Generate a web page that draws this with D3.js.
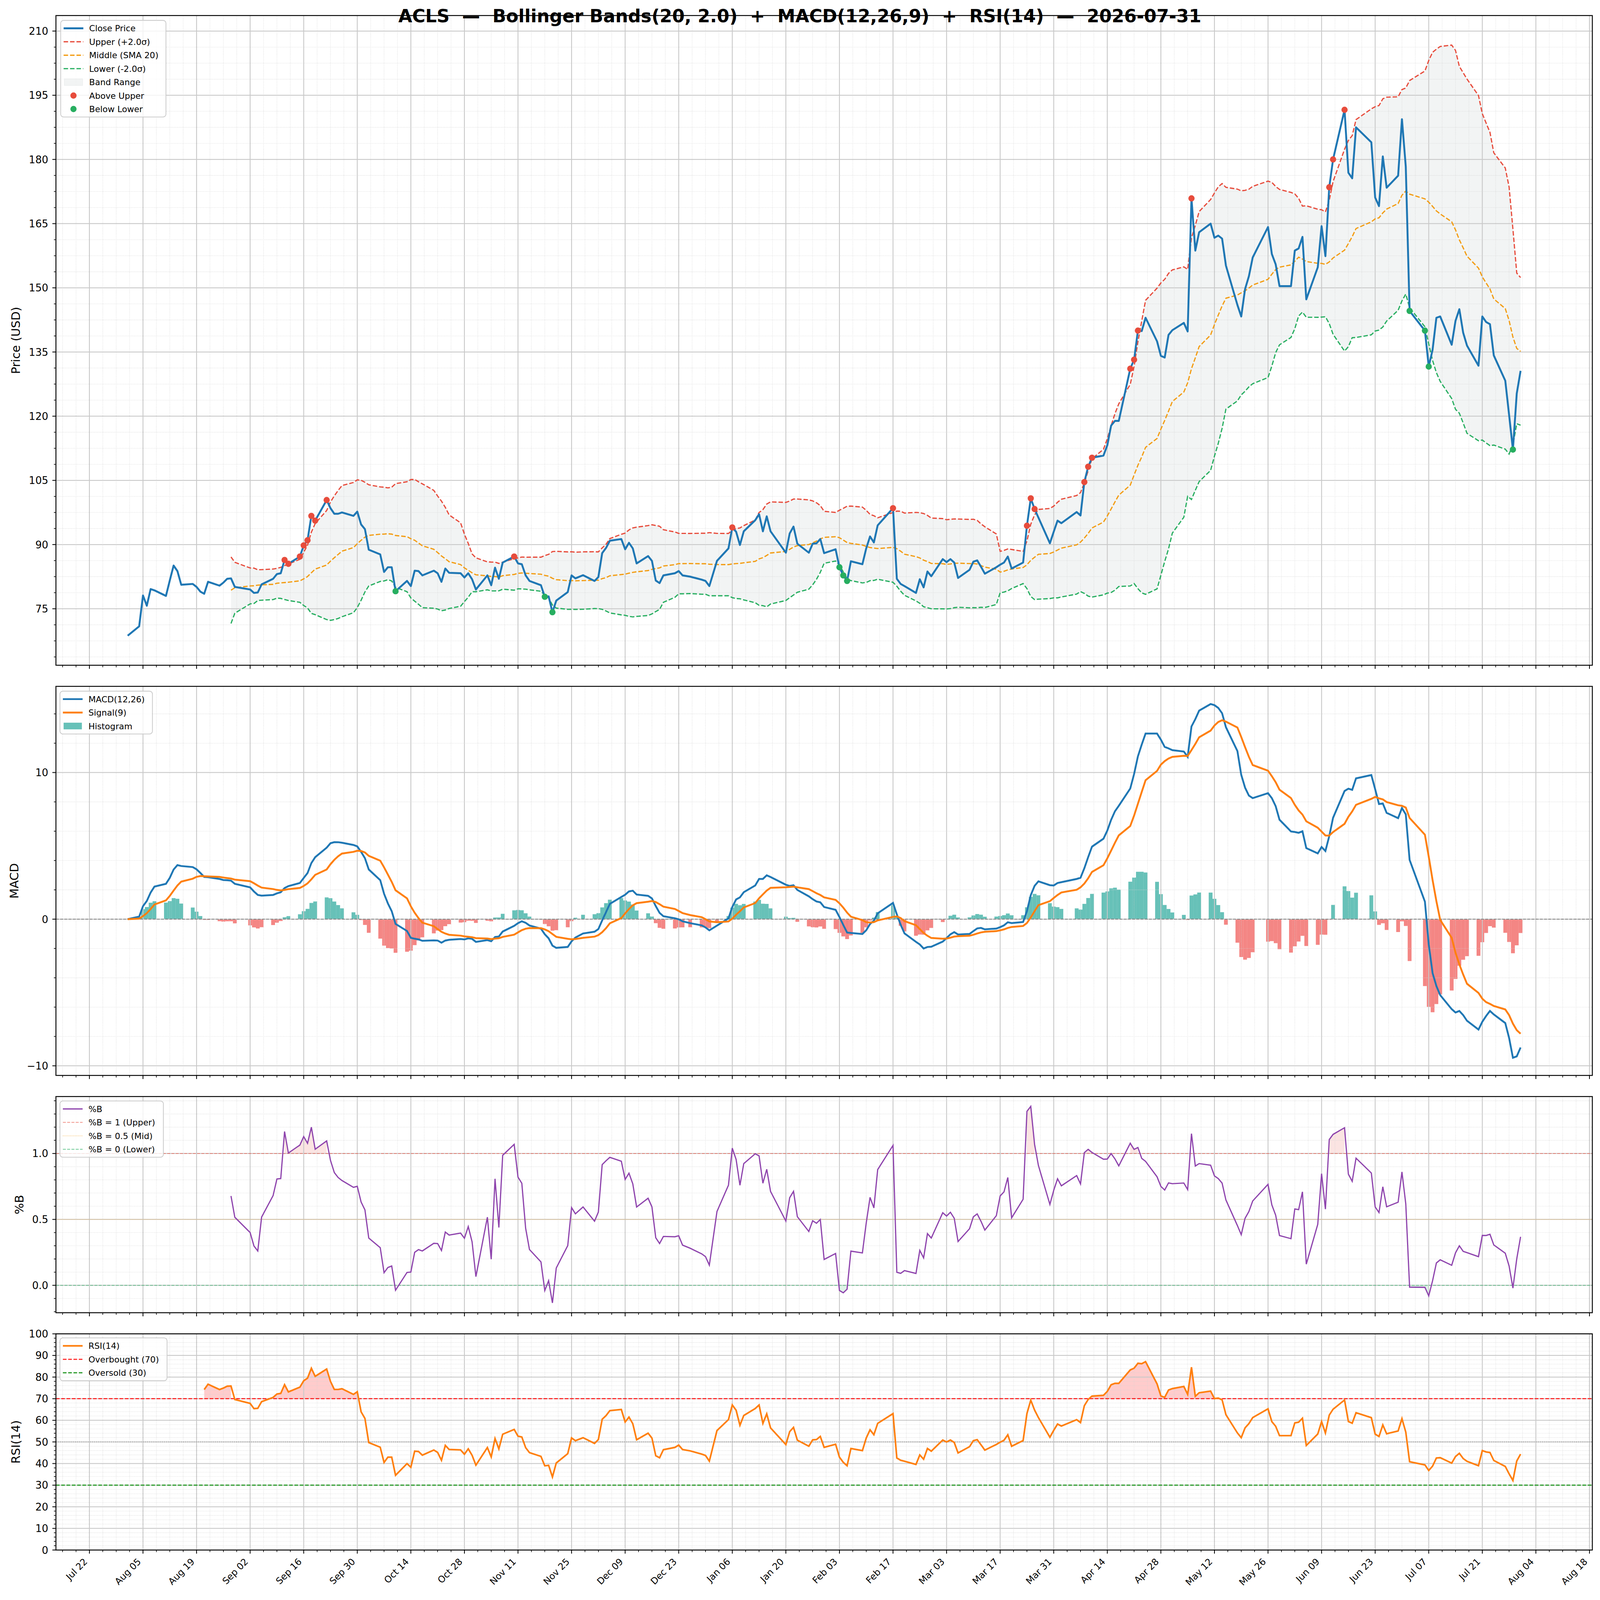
<!DOCTYPE html>
<html lang="en">
<head>
<meta charset="utf-8">
<title>ACLS Bollinger / MACD / RSI</title>
<script src="https://cdn.jsdelivr.net/npm/d3@7"></script>
<style>
  html, body { margin: 0; padding: 0; background: #ffffff; overflow: hidden; }
  svg { display: block; width: 100vw; height: 100vh; font-family: 'DejaVu Sans', 'Liberation Sans', sans-serif; }
</style>
</head>
<body>
<svg id="chart" viewBox="0 0 4377 4322" preserveAspectRatio="none"></svg>
<script>
// closing prices, [day of month, close] (exchange holidays are absent)
const close2025Aug = [[1,68.7],[4,70.9],[5,78.1],[6,75.7],[7,79.6],[8,79.3],[11,78.0],[12,81.6],[13,85.1],[14,83.8],[15,80.6],[18,80.8],[19,80.1],[20,79.0],[21,78.5],[22,81.3],[25,80.4],[26,81.1],[27,82.0],[28,82.1],[29,80.1]];
const close2025Sep = [[2,79.5],[3,78.7],[4,78.8],[5,80.7],[8,82.0],[9,83.1],[10,83.3],[11,86.4],[12,85.5],[15,87.2],[16,89.8],[17,91.0],[18,96.7],[19,95.6],[22,100.4],[23,98.5],[24,97.2],[25,97.2],[26,97.5],[29,96.7],[30,97.7]];
const close2025Oct = [[1,94.7],[2,93.6],[3,88.8],[6,87.7],[7,83.6],[8,84.7],[9,84.7],[10,79.1],[13,81.5],[14,80.3],[15,83.9],[16,83.8],[17,82.8],[20,83.9],[21,83.3],[22,81.3],[23,84.4],[24,83.4],[27,83.3],[28,82.3],[29,83.3],[30,81.9],[31,79.5]];
const close2025Nov = [[3,82.8],[4,80.5],[5,84.6],[6,82.0],[7,85.8],[10,87.2],[11,85.6],[12,85.4],[13,82.8],[14,81.5],[17,80.5],[18,77.8],[19,77.9],[20,74.2],[21,76.9],[24,78.9],[25,82.8],[26,82.1],[28,82.85]];
const close2025Dec = [[1,81.5],[2,82.4],[3,88.0],[4,89.2],[5,90.9],[8,91.3],[9,88.9],[10,90.4],[11,89.1],[12,85.6],[15,87.3],[16,86.2],[17,81.6],[18,81.0],[19,82.8],[22,83.3],[23,83.8],[24,82.8],[26,82.5],[29,81.8],[30,81.5],[31,80.3]];
const close2026Jan = [[2,86.2],[5,89.1],[6,94.0],[7,93.0],[8,89.9],[9,93.1],[12,95.7],[13,97.1],[14,93.1],[15,96.6],[16,93.1],[20,88.1],[21,92.6],[22,94.2],[23,90.2],[26,88.1],[27,90.2],[28,90.3],[29,91.3],[30,88.0]];
const close2026Feb = [[2,88.9],[3,84.7],[4,82.8],[5,81.5],[6,86.1],[9,85.4],[10,89.1],[11,91.9],[12,90.5],[13,94.5],[17,98.5],[18,82.0],[19,80.8],[20,80.3],[23,78.7],[24,81.9],[25,80.0],[26,83.7],[27,82.6]];
const close2026Mar = [[2,86.6],[3,85.9],[4,86.6],[5,85.8],[6,82.2],[9,84.1],[10,86.0],[11,86.3],[12,84.8],[13,83.2],[16,84.7],[17,85.3],[18,85.8],[19,87.2],[20,84.4],[23,85.8],[24,94.4],[25,100.8],[26,98.3],[27,96.3],[30,90.3],[31,93.0]];
const close2026Apr = [[1,95.6],[2,95.0],[6,97.6],[7,96.8],[8,104.6],[9,108.2],[10,110.3],[13,110.8],[14,113.2],[15,117.8],[16,118.9],[17,118.9],[20,131.1],[21,133.2],[22,140.0],[23,139.9],[24,143.0],[27,137.5],[28,134.1],[29,133.7],[30,139.0]];
const close2026May = [[1,140.1],[4,141.8],[5,139.8],[6,170.9],[7,158.7],[8,163.0],[11,165.0],[12,161.7],[13,162.2],[14,161.5],[15,155.2],[18,146.0],[19,143.3],[20,149.7],[21,152.7],[22,157.1],[26,164.2],[27,157.9],[28,155.5],[29,150.4]];
const close2026Jun = [[1,150.4],[2,158.7],[3,159.2],[4,161.9],[5,147.3],[8,154.8],[9,164.4],[10,157.4],[11,173.5],[12,180.0],[15,191.6],[16,176.9],[17,175.6],[18,187.5],[22,184.0],[23,171.1],[24,169.1],[25,180.7],[26,173.4],[29,176.2],[30,189.4]];
const close2026Jul = [[1,178.3],[2,144.6],[6,140.0],[7,131.6],[8,135.5],[9,143.0],[10,143.3],[13,136.7],[14,142.3],[15,145.0],[16,139.5],[17,136.5],[20,131.8],[21,143.3],[22,142.0],[23,141.5],[24,134.2],[27,128.3],[28,120.3],[29,112.2],[30,125.3],[31,130.6]];

const monthKeys = ["2025-08","2025-09","2025-10","2025-11","2025-12","2026-01","2026-02","2026-03","2026-04","2026-05","2026-06","2026-07"];
const monthCloses = [close2025Aug, close2025Sep, close2025Oct, close2025Nov, close2025Dec, close2026Jan,
                     close2026Feb, close2026Mar, close2026Apr, close2026May, close2026Jun, close2026Jul];

// tick labels
const xTickDates = ["2025-07-22","2025-08-05","2025-08-19","2025-09-02","2025-09-16","2025-09-30","2025-10-14","2025-10-28",
  "2025-11-11","2025-11-25","2025-12-09","2025-12-23","2026-01-06","2026-01-20","2026-02-03","2026-02-17","2026-03-03",
  "2026-03-17","2026-03-31","2026-04-14","2026-04-28","2026-05-12","2026-05-26","2026-06-09","2026-06-23","2026-07-07",
  "2026-07-21","2026-08-04","2026-08-18"];
const priceTicks = [75, 90, 105, 120, 135, 150, 165, 180, 195, 210];
const macdTicks = [-10, 0, 10];
const pctbTicks = [0, 0.5, 1.0];
const rsiTicks = [0, 10, 20, 30, 40, 50, 60, 70, 80, 90, 100];

const title = "ACLS  \u2014  Bollinger Bands(20, 2.0)  +  MACD(12,26,9)  +  RSI(14)  \u2014  2026-07-31";

// ---------- series ----------
const parseDay = d3.timeParse("%Y-%m-%d");
const data = [];
monthCloses.forEach((arr, k) => {
  const [yy, mm] = monthKeys[k].split("-").map(Number);
  arr.forEach(([d, c]) => data.push({date: new Date(yy, mm - 1, d), close: c}));
});
const closes = data.map(d => d.close);

// indicators, as named in the title
data.forEach((d, i) => {
  if (i >= 19) {
    const win = closes.slice(i - 19, i + 1);
    const m = d3.mean(win), s = d3.deviation(win);
    d.mid = m; d.upper = m + 2 * s; d.lower = m - 2 * s;
    d.pctb = (d.close - d.lower) / (d.upper - d.lower);
  }
});
let e12 = closes[0], e26 = closes[0], sig = 0;
data.forEach((d, i) => {
  if (i > 0) {
    e12 += (2 / 13) * (d.close - e12);
    e26 += (2 / 27) * (d.close - e26);
  }
  d.macd = e12 - e26;
  if (i > 0) sig += (2 / 10) * (d.macd - sig); else sig = d.macd;
  d.signal = sig;
  d.hist = d.macd - d.signal;
});
let ag = 0, al = 0;
data.forEach((d, i) => {
  if (i === 0) return;
  const diff = d.close - data[i - 1].close;
  const g = Math.max(diff, 0), l = Math.max(-diff, 0);
  if (i === 1) { ag = g; al = l; } else { ag = ag * 13 / 14 + g / 14; al = al * 13 / 14 + l / 14; }
  if (i >= 14) d.rsi = al === 0 ? 100 : 100 - 100 / (1 + ag / al);
});

// ---------- layout ----------
const svg = d3.select("#chart");
const X0 = 153, X1 = 4356;
const DAY = 864e5;
const x = d3.scaleTime()
  .domain([new Date(2025, 6, 13, 6), new Date(2026, 7, 18, 18)])
  .range([X0, X1]);

const majorX = xTickDates.map(parseDay);
const minorX = [];
for (let k = -4; ; k++) {
  const t = +majorX[0] + k * 3.5 * DAY;
  if (t > +x.domain()[1]) break;
  if (t >= +x.domain()[0] && k % 4 !== 0) minorX.push(new Date(t));
}

function padExtent(vals) {
  const lo = d3.min(vals), hi = d3.max(vals), p = (hi - lo) * 0.05;
  return [lo - p, hi + p];
}

let clipId = 0;
function makePanel(top, bottom, domain, ticks, minorStep, fmt, label, labelX, showXLabels) {
  const y = d3.scaleLinear().domain(domain).range([bottom, top]);
  const g = svg.append("g");
  const id = "clip" + (clipId++);
  g.append("clipPath").attr("id", id).append("rect")
    .attr("x", X0).attr("y", top).attr("width", X1 - X0).attr("height", bottom - top);
  const under = g.append("g").attr("clip-path", `url(#${id})`);
  const grid = g.append("g");
  const plot = g.append("g").attr("clip-path", `url(#${id})`);

  const minorY = [];
  const k0 = Math.ceil(domain[0] / minorStep), k1 = Math.floor(domain[1] / minorStep);
  for (let k = k0; k <= k1; k++) {
    const v = +(k * minorStep).toFixed(6);
    if (!ticks.some(t => Math.abs(t - v) < 1e-6)) minorY.push(v);
  }

  // grid
  grid.selectAll(null).data(minorX).join("line")
    .attr("x1", d => x(d)).attr("x2", d => x(d)).attr("y1", top).attr("y2", bottom)
    .attr("stroke", "#d2d2d2").attr("stroke-width", 1.4).attr("stroke-dasharray", "1.4,2.8");
  grid.selectAll(null).data(minorY).join("line")
    .attr("x1", X0).attr("x2", X1).attr("y1", d => y(d)).attr("y2", d => y(d))
    .attr("stroke", "#d2d2d2").attr("stroke-width", 1.4).attr("stroke-dasharray", "1.4,2.8");
  grid.selectAll(null).data(majorX).join("line")
    .attr("x1", d => x(d)).attr("x2", d => x(d)).attr("y1", top).attr("y2", bottom)
    .attr("stroke", "#c9c9c9").attr("stroke-width", 2.4);
  grid.selectAll(null).data(ticks).join("line")
    .attr("x1", X0).attr("x2", X1).attr("y1", d => y(d)).attr("y2", d => y(d))
    .attr("stroke", "#c9c9c9").attr("stroke-width", 2.4);

  // frame, ticks and labels drawn later, on top
  const front = svg.append("g").attr("class", "front");
  front.append("rect").attr("x", X0).attr("y", top).attr("width", X1 - X0).attr("height", bottom - top)
    .attr("fill", "none").attr("stroke", "#000").attr("stroke-width", 2.5);
  front.selectAll(null).data(ticks).join("line")
    .attr("x1", X0).attr("x2", X0 - 9.7).attr("y1", d => y(d)).attr("y2", d => y(d))
    .attr("stroke", "#000").attr("stroke-width", 2.2);
  front.selectAll(null).data(minorY).join("line")
    .attr("x1", X0).attr("x2", X0 - 5.6).attr("y1", d => y(d)).attr("y2", d => y(d))
    .attr("stroke", "#000").attr("stroke-width", 1.7);
  front.selectAll(null).data(ticks).join("text")
    .attr("x", X0 - 21).attr("y", d => y(d)).attr("dy", "0.36em")
    .attr("text-anchor", "end").attr("font-size", 27.8).attr("fill", "#000")
    .text(fmt);
  front.selectAll(null).data(majorX).join("line")
    .attr("x1", d => x(d)).attr("x2", d => x(d)).attr("y1", bottom).attr("y2", bottom + 9.7)
    .attr("stroke", "#000").attr("stroke-width", 2.2);
  front.selectAll(null).data(minorX).join("line")
    .attr("x1", d => x(d)).attr("x2", d => x(d)).attr("y1", bottom).attr("y2", bottom + 5.6)
    .attr("stroke", "#000").attr("stroke-width", 1.7);
  if (showXLabels) {
    const fmtX = d3.timeFormat("%b %d");
    front.selectAll(null).data(majorX).join("text")
      .attr("transform", d => `translate(${x(d) - 4},${bottom + 33}) rotate(-45)`)
      .attr("text-anchor", "end").attr("font-size", 25).attr("fill", "#000")
      .text(d => fmtX(d));
  }
  front.append("text")
    .attr("transform", `translate(${labelX},${(top + bottom) / 2}) rotate(-90)`)
    .attr("text-anchor", "middle").attr("font-size", 32).attr("fill", "#000")
    .text(label);
  return {y, under, plot, front, top, bottom};
}

function legend(p, x0, y0, w, rows) {
  const lg = p.front.append("g");
  const h = 43 + (rows.length - 1) * 36.33;
  lg.append("rect").attr("x", x0).attr("y", y0).attr("width", w).attr("height", h)
    .attr("rx", 8).attr("fill", "#fff").attr("fill-opacity", 0.8)
    .attr("stroke", "#cccccc").attr("stroke-width", 2.2);
  rows.forEach((r, i) => {
    const cy = y0 + 21.5 + i * 36.33;
    if (r.kind === "line") {
      lg.append("line").attr("x1", x0 + 8).attr("x2", x0 + 62).attr("y1", cy).attr("y2", cy)
        .attr("stroke", r.color).attr("stroke-width", r.width || 5)
        .attr("stroke-dasharray", r.dash || null).attr("stroke-opacity", r.opacity || 1);
    } else if (r.kind === "patch") {
      lg.append("rect").attr("x", x0 + 10).attr("y", cy - 9).attr("width", 50).attr("height", 18)
        .attr("fill", r.color).attr("fill-opacity", r.opacity)
        .attr("stroke", r.stroke || "none").attr("stroke-width", 1.5);
    } else if (r.kind === "marker") {
      lg.append("circle").attr("cx", x0 + 35).attr("cy", cy).attr("r", 8.5).attr("fill", r.color);
    }
    lg.append("text").attr("x", x0 + 78).attr("y", cy).attr("dy", "0.36em")
      .attr("font-size", 23.2).attr("fill", "#000").text(r.label);
  });
}

// ---------- price + bands ----------
const bandData = data.filter(d => d.upper !== undefined);
const pricePanel = makePanel(42, 1797,
  padExtent(closes.concat(bandData.map(d => d.upper), bandData.map(d => d.lower))),
  priceTicks, 3.75, d3.format("d"), "Price (USD)", 55, false);

pricePanel.under.append("path").datum(bandData)
  .attr("d", d3.area().x(d => x(d.date)).y0(d => pricePanel.y(d.lower)).y1(d => pricePanel.y(d.upper)))
  .attr("fill", "#95a5a6").attr("fill-opacity", 0.12);

const bandLine = key => d3.line().x(d => x(d.date)).y(d => pricePanel.y(d[key]));
[["upper", "#e74c3c"], ["mid", "#f39c12"], ["lower", "#27ae60"]].forEach(([k, c]) => {
  pricePanel.plot.append("path").datum(bandData).attr("d", bandLine(k))
    .attr("fill", "none").attr("stroke", c).attr("stroke-width", 3.3).attr("stroke-dasharray", "12.3,5.3");
});
pricePanel.plot.append("path").datum(data)
  .attr("d", d3.line().x(d => x(d.date)).y(d => pricePanel.y(d.close)))
  .attr("fill", "none").attr("stroke", "#1f77b4").attr("stroke-width", 5.2).attr("stroke-linejoin", "round");
pricePanel.plot.selectAll(null).data(bandData.filter(d => d.close > d.upper)).join("circle")
  .attr("cx", d => x(d.date)).attr("cy", d => pricePanel.y(d.close)).attr("r", 8.5).attr("fill", "#e74c3c");
pricePanel.plot.selectAll(null).data(bandData.filter(d => d.close < d.lower)).join("circle")
  .attr("cx", d => x(d.date)).attr("cy", d => pricePanel.y(d.close)).attr("r", 8.5).attr("fill", "#27ae60");

legend(pricePanel, 166, 55, 288, [
  {kind: "line", label: "Close Price", color: "#1f77b4", width: 5.2},
  {kind: "line", label: "Upper (+2.0\u03c3)", color: "#e74c3c", width: 3.3, dash: "12.3,5.3"},
  {kind: "line", label: "Middle (SMA 20)", color: "#f39c12", width: 3.3, dash: "12.3,5.3"},
  {kind: "line", label: "Lower (-2.0\u03c3)", color: "#27ae60", width: 3.3, dash: "12.3,5.3"},
  {kind: "patch", label: "Band Range", color: "#95a5a6", opacity: 0.12, stroke: "#eceeee"},
  {kind: "marker", label: "Above Upper", color: "#e74c3c"},
  {kind: "marker", label: "Below Lower", color: "#27ae60"}
]);

// ---------- MACD ----------
const macdPanel = makePanel(1854, 2905,
  padExtent(data.map(d => d.macd).concat(data.map(d => d.signal), data.map(d => d.hist), [0])),
  macdTicks, 2, d3.format("d"), "MACD", 50, false);
macdPanel.under.selectAll(null).data(data).join("rect")
  .attr("x", d => x(new Date(+d.date - DAY / 2)))
  .attr("width", x(new Date(+data[0].date + DAY / 2)) - x(new Date(+data[0].date - DAY / 2)))
  .attr("y", d => macdPanel.y(Math.max(0, d.hist)))
  .attr("height", d => Math.abs(macdPanel.y(0) - macdPanel.y(d.hist)))
  .attr("fill", d => d.hist >= 0 ? "#26a69a" : "#ef5350").attr("fill-opacity", 0.7);
macdPanel.plot.append("line").attr("x1", X0).attr("x2", X1)
  .attr("y1", macdPanel.y(0)).attr("y2", macdPanel.y(0))
  .attr("stroke", "#808080").attr("stroke-width", 2.2).attr("stroke-dasharray", "8,3.5");
macdPanel.plot.append("path").datum(data)
  .attr("d", d3.line().x(d => x(d.date)).y(d => macdPanel.y(d.macd)))
  .attr("fill", "none").attr("stroke", "#1f77b4").attr("stroke-width", 5);
macdPanel.plot.append("path").datum(data)
  .attr("d", d3.line().x(d => x(d.date)).y(d => macdPanel.y(d.signal)))
  .attr("fill", "none").attr("stroke", "#ff7f0e").attr("stroke-width", 5);
legend(macdPanel, 164, 1867, 253, [
  {kind: "line", label: "MACD(12,26)", color: "#1f77b4", width: 5},
  {kind: "line", label: "Signal(9)", color: "#ff7f0e", width: 5},
  {kind: "patch", label: "Histogram", color: "#26a69a", opacity: 0.7}
]);

// ---------- %B ----------
const pctbPanel = makePanel(2962, 3546,
  padExtent(bandData.map(d => d.pctb).concat([0, 1])),
  pctbTicks, 0.1, d3.format(".1f"), "%B", 64, false);
pctbPanel.under.append("path").datum(bandData)
  .attr("d", d3.area().defined(d => d.pctb >= 1).x(d => x(d.date))
    .y0(pctbPanel.y(1)).y1(d => pctbPanel.y(d.pctb)))
  .attr("fill", "#e74c3c").attr("fill-opacity", 0.15);
pctbPanel.under.append("path").datum(bandData)
  .attr("d", d3.area().defined(d => d.pctb <= 0).x(d => x(d.date))
    .y0(pctbPanel.y(0)).y1(d => pctbPanel.y(d.pctb)))
  .attr("fill", "#27ae60").attr("fill-opacity", 0.15);
[[1, "#e74c3c", "8.2,3.5"], [0.5, "#f39c12", "1.4,2.3"], [0, "#27ae60", "8.2,3.5"]].forEach(([v, c, dash]) => {
  pctbPanel.plot.append("line").attr("x1", X0).attr("x2", X1)
    .attr("y1", pctbPanel.y(v)).attr("y2", pctbPanel.y(v))
    .attr("stroke", c).attr("stroke-opacity", 0.6).attr("stroke-width", 2.2).attr("stroke-dasharray", dash);
});
pctbPanel.plot.append("path").datum(bandData)
  .attr("d", d3.line().x(d => x(d.date)).y(d => pctbPanel.y(d.pctb)))
  .attr("fill", "none").attr("stroke", "#8e44ad").attr("stroke-width", 3.3);
legend(pctbPanel, 164, 2974, 283, [
  {kind: "line", label: "%B", color: "#8e44ad", width: 3.3},
  {kind: "line", label: "%B = 1 (Upper)", color: "#e74c3c", width: 2.2, dash: "8.2,3.5", opacity: 0.6},
  {kind: "line", label: "%B = 0.5 (Mid)", color: "#f39c12", width: 2.2, dash: "1.4,2.3", opacity: 0.6},
  {kind: "line", label: "%B = 0 (Lower)", color: "#27ae60", width: 2.2, dash: "8.2,3.5", opacity: 0.6}
]);

// ---------- RSI ----------
const rsiData = data.filter(d => d.rsi !== undefined);
const rsiPanel = makePanel(3603, 4187, [0, 100], rsiTicks, 2, d3.format("d"), "RSI(14)", 55, true);
rsiPanel.under.append("path").datum(rsiData)
  .attr("d", d3.area().defined(d => d.rsi >= 70).x(d => x(d.date))
    .y0(rsiPanel.y(70)).y1(d => rsiPanel.y(d.rsi)))
  .attr("fill", "#ff0000").attr("fill-opacity", 0.2);
rsiPanel.under.append("path").datum(rsiData)
  .attr("d", d3.area().defined(d => d.rsi <= 30).x(d => x(d.date))
    .y0(rsiPanel.y(30)).y1(d => rsiPanel.y(d.rsi)))
  .attr("fill", "#008000").attr("fill-opacity", 0.2);
rsiPanel.plot.append("line").attr("x1", X0).attr("x2", X1)
  .attr("y1", rsiPanel.y(50)).attr("y2", rsiPanel.y(50))
  .attr("stroke", "#999999").attr("stroke-width", 2.2).attr("stroke-dasharray", "2.2,3.6");
[[70, "#ff2020"], [30, "#2a9a2a"]].forEach(([v, c]) => {
  rsiPanel.plot.append("line").attr("x1", X0).attr("x2", X1)
    .attr("y1", rsiPanel.y(v)).attr("y2", rsiPanel.y(v))
    .attr("stroke", c).attr("stroke-width", 3).attr("stroke-dasharray", "10,4.5");
});
rsiPanel.plot.append("path").datum(rsiData)
  .attr("d", d3.line().x(d => x(d.date)).y(d => rsiPanel.y(d.rsi)))
  .attr("fill", "none").attr("stroke", "#ff7f0e").attr("stroke-width", 4.4);
legend(rsiPanel, 164, 3614, 293, [
  {kind: "line", label: "RSI(14)", color: "#ff7f0e", width: 4.4},
  {kind: "line", label: "Overbought (70)", color: "#ff2020", width: 3, dash: "10,4.5"},
  {kind: "line", label: "Oversold (30)", color: "#2a9a2a", width: 3, dash: "10,4.5"}
]);

// ---------- title ----------
svg.append("text")
  .attr("x", 2188).attr("y", 60)
  .attr("text-anchor", "middle").attr("font-size", 49).attr("font-weight", "bold")
  .style("white-space", "pre").attr("fill", "#000")
  .text(title);
</script>
</body>
</html>
